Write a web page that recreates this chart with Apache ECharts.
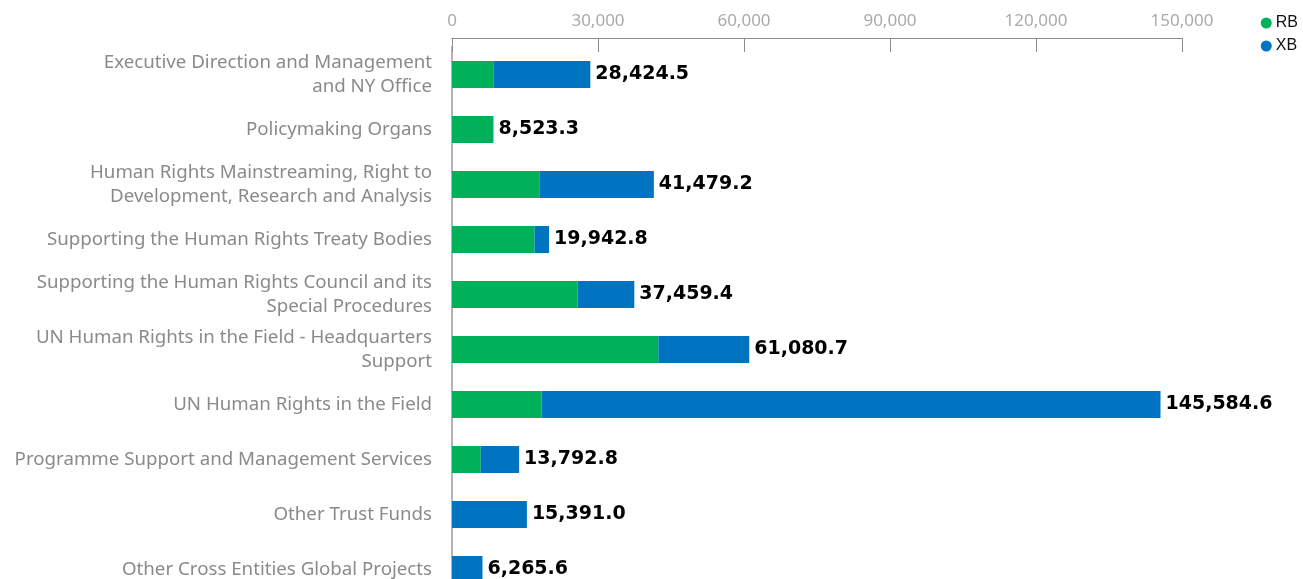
<!DOCTYPE html>
<html>
<head>
<meta charset="utf-8">
<script src="https://cdn.jsdelivr.net/npm/echarts@6/dist/echarts.min.js"></script>
<style>
  html, body { margin: 0; padding: 0; background: #fff; overflow: hidden; }
  #chart { width: 1303px; height: 620px; }
</style>
</head>
<body>
<div id="chart"></div>
<script>
const categories = [
  'Executive Direction and Management\nand NY Office',
  'Policymaking Organs',
  'Human Rights Mainstreaming, Right to\nDevelopment, Research and Analysis',
  'Supporting the Human Rights Treaty Bodies',
  'Supporting the Human Rights Council and its\nSpecial Procedures',
  'UN Human Rights in the Field - Headquarters\nSupport',
  'UN Human Rights in the Field',
  'Programme Support and Management Services',
  'Other Trust Funds',
  'Other Cross Entities Global Projects'
];
const rbValues = [8600.0, 8523.3, 17950.0, 16950.0, 25800.0, 42400.0, 18400.0, 5900.0, 0, 0];
const xbValues = [19824.5, 0, 23529.2, 2992.8, 11659.4, 18680.7, 127184.6, 7892.8, 15391.0, 6265.6];
const axisTicks = [0, 30000, 60000, 90000, 120000, 150000];

const fmt = (v, d) => v.toLocaleString('en-US', { minimumFractionDigits: d, maximumFractionDigits: d });

const chart = echarts.init(document.getElementById('chart'));
chart.setOption({
  animation: false,
  legend: {
    orient: 'vertical',
    right: 0,
    top: 10,
    icon: 'circle',
    itemWidth: 11,
    itemHeight: 11,
    itemGap: 7,
    textStyle: { fontFamily: 'Liberation Sans', fontSize: 16, color: '#111', padding: [0, 0, 0, -1] },
    data: ['RB', 'XB']
  },
  grid: { left: 452, top: 47, width: 730, height: 550, containLabel: false },
  xAxis: {
    type: 'value',
    position: 'top',
    offset: 9,
    min: axisTicks[0],
    max: axisTicks[axisTicks.length - 1],
    interval: axisTicks[1] - axisTicks[0],
    axisLine: { show: true, lineStyle: { color: '#8c8c8c', width: 1 } },
    axisTick: { show: true, inside: true, length: 14, lineStyle: { color: '#8c8c8c' } },
    axisLabel: {
      margin: 8,
      color: '#aaaaaa',
      fontFamily: 'Noto Sans',
      fontSize: 17,
      formatter: v => fmt(v, 0)
    },
    splitLine: { show: false }
  },
  yAxis: {
    type: 'category',
    inverse: true,
    data: categories,
    axisLine: { show: true, lineStyle: { color: '#9a9a9a', width: 1.5 } },
    axisTick: { show: false },
    axisLabel: {
      margin: 20,
      color: '#8a8a8a',
      fontFamily: 'Noto Sans',
      fontSize: 18.7,
      lineHeight: 24,
      align: 'right'
    }
  },
  series: [
    {
      name: 'RB',
      type: 'bar',
      stack: 'total',
      barWidth: 27,
      itemStyle: { color: '#00b15a' },
      data: rbValues
    },
    {
      name: 'XB',
      type: 'bar',
      stack: 'total',
      barWidth: 27,
      itemStyle: { color: '#0074c1' },
      label: {
        show: true,
        position: 'right',
        distance: 5,
        color: '#000',
        fontFamily: 'DejaVu Sans',
        fontWeight: 'bold',
        fontSize: 19,
        formatter: p => fmt(rbValues[p.dataIndex] + xbValues[p.dataIndex], 1)
      },
      data: xbValues
    }
  ]
});
</script>
</body>
</html>
